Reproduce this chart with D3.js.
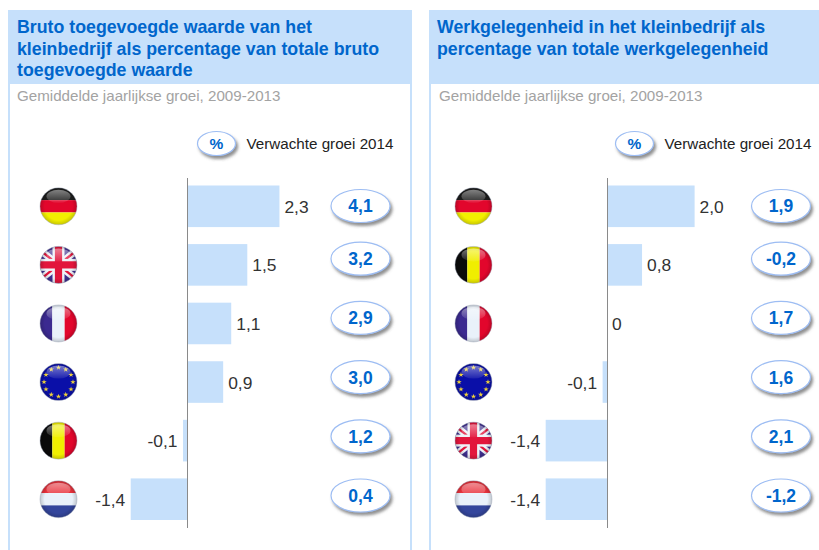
<!DOCTYPE html>
<html>
<head>
<meta charset="utf-8">
<script src="https://cdn.jsdelivr.net/npm/d3@7"></script>
<style>
  html, body { margin: 0; padding: 0; background: #fff; overflow: hidden; }
  text { font-family: "Liberation Sans", Arial, sans-serif; }
</style>
</head>
<body>
<script>
// left panel
var leftTitle = ['Bruto toegevoegde waarde van het', 'kleinbedrijf als percentage van totale bruto', 'toegevoegde waarde']
var leftCountries = ['de', 'uk', 'fr', 'eu', 'be', 'nl']
var leftGrowth = [2.3, 1.5, 1.1, 0.9, -0.1, -1.4]
var leftExpected = ['4,1', '3,2', '2,9', '3,0', '1,2', '0,4']

// right panel
var rightTitle = ['Werkgelegenheid in het kleinbedrijf als', 'percentage van totale werkgelegenheid']
var rightCountries = ['de', 'be', 'fr', 'eu', 'uk', 'nl']
var rightGrowth = [2.0, 0.8, 0, -0.1, -1.4, -1.4]
var rightExpected = ['1,9', '-0,2', '1,7', '1,6', '2,1', '-1,2']

var subtitle = 'Gemiddelde jaarlijkse groei, 2009-2013'
var legendText = 'Verwachte groei 2014'

var width = 819, height = 550
var blue = '#c6e0fb', titleBlue = '#0066cc'

var svg = d3.select('body').append('svg')
    .attr('width', width)
    .attr('height', height)
    .style('display', 'block')

var defs = svg.append('defs')

var shadow = defs.append('filter').attr('id', 'shadow')
    .attr('x', '-20%').attr('y', '-30%').attr('width', '150%').attr('height', '180%')
shadow.append('feDropShadow')
    .attr('dx', 2).attr('dy', 3).attr('stdDeviation', 1.6)
    .attr('flood-color', '#555').attr('flood-opacity', 0.65)

var gloss = defs.append('linearGradient').attr('id', 'gloss')
    .attr('x1', 0).attr('x2', 0).attr('y1', 0).attr('y2', 1)
gloss.append('stop').attr('offset', 0).attr('stop-color', '#fff').attr('stop-opacity', 0.45)
gloss.append('stop').attr('offset', 1).attr('stop-color', '#fff').attr('stop-opacity', 0.08)

var shade = defs.append('radialGradient').attr('id', 'shade')
shade.append('stop').attr('offset', 0.75).attr('stop-color', '#000').attr('stop-opacity', 0)
shade.append('stop').attr('offset', 1).attr('stop-color', '#000').attr('stop-opacity', 0.18)

defs.append('clipPath').attr('id', 'flagClip')
    .append('circle').attr('r', 18.5)

var flagR = 18.5

function stripesH(g, colors) {
    var y = d3.scaleBand().domain(d3.range(colors.length)).range([-flagR, flagR])
    g.selectAll('rect.s').data(colors).enter().append('rect').attr('class', 's')
        .attr('x', -flagR).attr('width', flagR * 2)
        .attr('y', function (d, i) { return y(i) })
        .attr('height', y.bandwidth())
        .attr('fill', function (d) { return d })
}

function stripesV(g, colors) {
    var x = d3.scaleBand().domain(d3.range(colors.length)).range([-flagR, flagR])
    g.selectAll('rect.s').data(colors).enter().append('rect').attr('class', 's')
        .attr('y', -flagR).attr('height', flagR * 2)
        .attr('x', function (d, i) { return x(i) })
        .attr('width', x.bandwidth())
        .attr('fill', function (d) { return d })
}

function drawUk(g) {
    g.append('rect').attr('x', -flagR).attr('y', -flagR)
        .attr('width', flagR * 2).attr('height', flagR * 2).attr('fill', '#3f2f8f')
    var diag = [[-flagR, -flagR * 0.8, flagR, flagR * 0.8], [-flagR, flagR * 0.8, flagR, -flagR * 0.8]]
    g.selectAll('line.w').data(diag).enter().append('line').attr('class', 'w')
        .attr('x1', function (d) { return d[0] }).attr('y1', function (d) { return d[1] })
        .attr('x2', function (d) { return d[2] }).attr('y2', function (d) { return d[3] })
        .attr('stroke', '#eef2f8').attr('stroke-width', 7)
    g.selectAll('line.r').data(diag).enter().append('line').attr('class', 'r')
        .attr('x1', function (d) { return d[0] }).attr('y1', function (d) { return d[1] })
        .attr('x2', function (d) { return d[2] }).attr('y2', function (d) { return d[3] })
        .attr('stroke', '#e2153c').attr('stroke-width', 2.4)
    g.append('rect').attr('x', -flagR).attr('y', -6).attr('width', flagR * 2).attr('height', 12).attr('fill', '#eef2f8')
    g.append('rect').attr('x', -6).attr('y', -flagR).attr('width', 12).attr('height', flagR * 2).attr('fill', '#eef2f8')
    g.append('rect').attr('x', -flagR).attr('y', -3.6).attr('width', flagR * 2).attr('height', 7.2).attr('fill', '#e2153c')
    g.append('rect').attr('x', -3.6).attr('y', -flagR).attr('width', 7.2).attr('height', flagR * 2).attr('fill', '#e2153c')
}

function drawEu(g) {
    g.append('rect').attr('x', -flagR).attr('y', -flagR)
        .attr('width', flagR * 2).attr('height', flagR * 2).attr('fill', '#0a0fa8')
    var star = d3.symbol().type(d3.symbolStar).size(9)
    g.selectAll('path.star').data(d3.range(12)).enter().append('path').attr('class', 'star')
        .attr('d', star)
        .attr('fill', '#f2d53c')
        .attr('transform', function (d) {
            var a = d / 12 * 2 * Math.PI
            return 'translate(' + (14.5 * Math.sin(a)) + ',' + (-14.5 * Math.cos(a)) + ')'
        })
}

var flagDrawers = {
    de: function (g) { stripesH(g, ['#1c1c1c', '#e2062c', '#f2f000']) },
    fr: function (g) { stripesV(g, ['#3b2a90', '#e9f1fa', '#e2062c']) },
    be: function (g) { stripesV(g, ['#0a0a0a', '#f0ee00', '#e2062c']) },
    nl: function (g) { stripesH(g, ['#e8323c', '#e9f1fa', '#34469c']) },
    uk: drawUk,
    eu: drawEu
}

function drawFlag(parent, code, cx, cy) {
    var g = parent.append('g').attr('transform', 'translate(' + cx + ',' + cy + ')')
    var inner = g.append('g').attr('clip-path', 'url(#flagClip)')
    flagDrawers[code](inner)
    g.append('circle').attr('r', flagR).attr('fill', 'url(#shade)')
        .attr('stroke', '#9aa3b5').attr('stroke-opacity', 0.55).attr('stroke-width', 0.8)
    g.append('ellipse').attr('cy', -10).attr('rx', 12).attr('ry', 6.5).attr('fill', 'url(#gloss)')
}

function drawBubble(parent, text, cx, cy, rx, ry, size) {
    parent.append('ellipse')
        .attr('cx', cx).attr('cy', cy).attr('rx', rx).attr('ry', ry)
        .attr('fill', '#fff').attr('stroke', '#9dbdf3').attr('stroke-width', 1.2)
        .attr('filter', 'url(#shadow)')
    parent.append('text')
        .attr('x', cx).attr('y', cy + size * 0.37)
        .attr('text-anchor', 'middle')
        .attr('font-size', size).attr('font-weight', 'bold')
        .attr('fill', titleBlue)
        .text(text)
}

function fmt(d) {
    return d === 0 ? '0' : d.toFixed(1).replace('.', ',')
}

function panel(o) {
    var g = svg.append('g')

    // side rules, then header
    g.selectAll('rect.side').data([o.x0, o.x1 - 2]).enter().append('rect').attr('class', 'side')
        .attr('x', function (d) { return d }).attr('y', 84)
        .attr('width', 2).attr('height', height - 84)
        .attr('fill', blue)
    g.append('rect').attr('x', o.x0).attr('y', 10)
        .attr('width', o.x1 - o.x0).attr('height', 74).attr('fill', blue)

    g.selectAll('text.title').data(o.title).enter().append('text').attr('class', 'title')
        .attr('x', o.titleX)
        .attr('y', function (d, i) { return 33 + i * 21.5 })
        .attr('font-size', 17.75).attr('font-weight', 'bold')
        .attr('fill', titleBlue)
        .text(function (d) { return d })

    g.append('text').attr('x', o.subX).attr('y', 101)
        .attr('font-size', 15.15).attr('fill', '#a3a3a3')
        .text(subtitle)

    drawBubble(g, '%', o.legendX, 143.5, 19, 12, 15.5)
    g.append('text').attr('x', o.legendX + 30).attr('y', 149)
        .attr('font-size', 15.2).attr('fill', '#222')
        .text(legendText)

    var x = d3.scaleLinear().domain([0, 1]).range([o.zero, o.zero + o.unit])
    var y = d3.scaleBand().domain(o.countries)
        .range([177, 528.5]).paddingInner(0.29).paddingOuter(0.145)
    var yBubble = d3.scalePoint().domain(o.countries).range([199.5, 495.5])

    g.selectAll('rect.bar').data(o.growth).enter().append('rect').attr('class', 'bar')
        .attr('x', function (d) { return Math.min(x(0), x(d)) })
        .attr('width', function (d) { return Math.abs(x(d) - x(0)) })
        .attr('y', function (d, i) { return y(o.countries[i]) })
        .attr('height', y.bandwidth())
        .attr('fill', blue)

    g.append('line')
        .attr('x1', x(0) + 0.5).attr('x2', x(0) + 0.5).attr('y1', 178).attr('y2', 528)
        .attr('stroke', '#8a8a8a').attr('stroke-width', 1)

    g.selectAll('text.val').data(o.growth).enter().append('text').attr('class', 'val')
        .attr('x', function (d) { return d < 0 ? x(d) - 5.5 : x(d) + 5 })
        .attr('y', function (d, i) { return y(o.countries[i]) + y.bandwidth() / 2 + 6.5 })
        .attr('text-anchor', function (d) { return d < 0 ? 'end' : 'start' })
        .attr('font-size', 17.4).attr('fill', '#333')
        .text(fmt)

    o.countries.forEach(function (c, i) {
        drawFlag(g, c, o.flagX, y(c) + y.bandwidth() / 2)
        // the top bubble sits a little lower than the regular spacing
        drawBubble(g, o.expected[i], o.bubbleX, yBubble(c) + (i === 0 ? 6.5 : 0), 29.5, 16.5, 17.5)
    })
}

panel({
    x0: 8, x1: 412, zero: 187, unit: 40.2, flagX: 58.5, bubbleX: 360.5, legendX: 216.5, titleX: 17, subX: 17,
    title: leftTitle, countries: leftCountries, growth: leftGrowth, expected: leftExpected
})
panel({
    x0: 429, x1: 840, zero: 607, unit: 43.8, flagX: 473.5, bubbleX: 781, legendX: 634.5, titleX: 437, subX: 439,
    title: rightTitle, countries: rightCountries, growth: rightGrowth, expected: rightExpected
})
</script>
</body>
</html>
